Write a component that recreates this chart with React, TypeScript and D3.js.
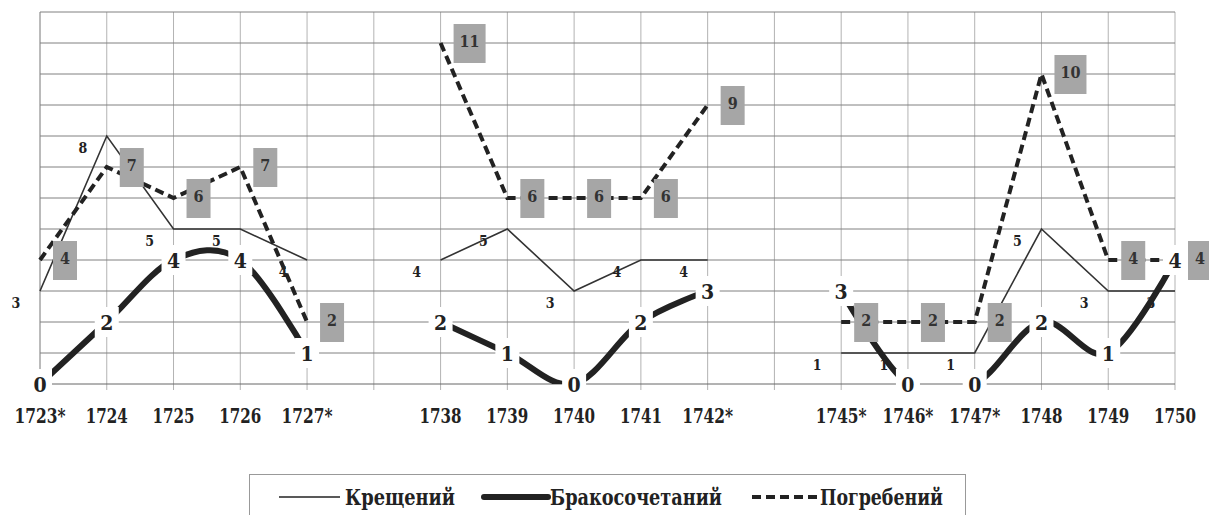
import React, { useEffect, useRef } from 'react';
import * as d3 from 'd3';

// categories ("" = empty slot between the groups of years)
const categories = ['1723*', '1724', '1725', '1726', '1727*', '', '1738', '1739', '1740', '1741', '1742*', '', '1745*', '1746*', '1747*', '1748', '1749', '1750'];
const baptisms: (number | null)[] = [3, 8, 5, 5, 4, null, 4, 5, 3, 4, 4, null, 1, 1, 1, 5, 3, 3];
const marriages: (number | null)[] = [0, 2, 4, 4, 1, null, 2, 1, 0, 2, 3, null, 3, 0, 0, 2, 1, 4];
const burials: (number | null)[] = [4, 7, 6, 7, 2, null, 11, 6, 6, 6, 9, null, 2, 2, 2, 10, 4, 4];
const seriesNames = ['Крещений', 'Бракосочетаний', 'Погребений'];

const FONT = 'DejaVu Serif Condensed, DejaVu Serif';

const App = () => {
  const svgRef = useRef<SVGSVGElement | null>(null);

  useEffect(() => {
    if (!svgRef.current) return;
    const svg = d3.select(svgRef.current);
    svg.selectAll('*').remove();

    const left = 40, right = 1175, top = 12, bottom = 384;

    const x = d3.scalePoint<number>()
      .domain(categories.map((_, i) => i))
      .range([left, right]);

    const y = d3.scaleLinear().domain([0, 12]).range([bottom, top]);

    // clip for the smoothed line
    svg.append('defs').append('clipPath').attr('id', 'plot-clip')
      .append('rect')
      .attr('x', left).attr('y', top)
      .attr('width', right - left).attr('height', bottom - top);

    // vertical grid + ticks
    svg.append('g')
      .selectAll('line')
      .data(categories.map((_, i) => i))
      .enter().append('line')
      .attr('x1', d => x(d)!).attr('x2', d => x(d)!)
      .attr('y1', top).attr('y2', bottom + 6)
      .attr('stroke', d => (d === 0 ? '#777' : '#b3b3b3'))
      .attr('stroke-width', 1);

    // horizontal grid
    svg.append('g')
      .selectAll('line')
      .data(d3.range(0, 13))
      .enter().append('line')
      .attr('x1', left).attr('x2', right)
      .attr('y1', d => y(d)).attr('y2', d => y(d))
      .attr('stroke', d => (d === 0 ? '#666' : '#808080'))
      .attr('stroke-width', 1);

    // x labels
    svg.append('g')
      .selectAll('text')
      .data(categories.map((c, i) => ({ c, i })).filter(d => d.c !== ''))
      .enter().append('text')
      .attr('x', d => x(d.i)!)
      .attr('y', 417)
      .attr('text-anchor', 'middle')
      .attr('dominant-baseline', 'middle')
      .attr('textLength', d => (d.c.endsWith('*') ? 51 : 42))
      .attr('lengthAdjust', 'spacingAndGlyphs')
      .style('font-family', FONT)
      .attr('font-weight', 'bold')
      .attr('font-size', 20)
      .attr('fill', '#222')
      .text(d => d.c);

    const pts = (vals: (number | null)[]) => vals.map((v, i) => ({ i, v }));

    const straight = d3.line<{ i: number; v: number | null }>()
      .defined(d => d.v !== null)
      .x(d => x(d.i)!)
      .y(d => y(d.v as number));

    const smooth = d3.line<{ i: number; v: number | null }>()
      .defined(d => d.v !== null)
      .x(d => x(d.i)!)
      .y(d => y(d.v as number))
      .curve(d3.curveCardinal.tension(0));

    // baptisms: thin solid
    svg.append('path')
      .datum(pts(baptisms))
      .attr('fill', 'none')
      .attr('stroke', '#333')
      .attr('stroke-width', 1.6)
      .attr('d', straight);

    svg.append('g')
      .selectAll('text')
      .data(pts(baptisms).filter(d => d.v !== null))
      .enter().append('text')
      .attr('x', d => x(d.i)! - 24)
      .attr('y', d => y(d.v as number) + 13)
      .attr('text-anchor', 'middle')
      .attr('dominant-baseline', 'middle')
      .style('font-family', FONT)
      .attr('font-weight', 'bold')
      .attr('font-size', 14)
      .attr('fill', '#222')
      .text(d => String(d.v));

    // marriages: thick smoothed
    svg.append('path')
      .datum(pts(marriages))
      .attr('clip-path', 'url(#plot-clip)')
      .attr('fill', 'none')
      .attr('stroke', '#222')
      .attr('stroke-width', 6)
      .attr('d', smooth);

    // burials: dashed
    svg.append('path')
      .datum(pts(burials))
      .attr('fill', 'none')
      .attr('stroke', '#222')
      .attr('stroke-width', 4)
      .attr('stroke-dasharray', '9,5')
      .attr('d', straight);

    // marriage labels, white background
    const mLab = svg.append('g')
      .selectAll('g')
      .data(pts(marriages).filter(d => d.v !== null))
      .enter().append('g')
      .attr('transform', d => `translate(${x(d.i)},${y(d.v as number)})`);
    mLab.append('rect')
      .attr('x', -12).attr('y', -15)
      .attr('width', 24).attr('height', 30)
      .attr('fill', 'white');
    mLab.append('text')
      .attr('y', 2)
      .attr('text-anchor', 'middle')
      .attr('dominant-baseline', 'middle')
      .style('font-family', FONT)
      .attr('font-weight', 'bold')
      .attr('font-size', 21)
      .attr('fill', '#222')
      .text(d => String(d.v));

    // burial labels, grey boxes
    const bLab = svg.append('g')
      .selectAll('g')
      .data(pts(burials).filter(d => d.v !== null))
      .enter().append('g')
      .attr('transform', d => `translate(${x(d.i)! + 13},${y(d.v as number)})`);
    bLab.append('rect')
      .attr('x', 0).attr('y', -19)
      .attr('width', d => 16 + 8 * String(d.v).length)
      .attr('height', 39)
      .attr('fill', '#a6a6a6');
    bLab.append('text')
      .attr('x', d => (16 + 8 * String(d.v).length) / 2)
      .attr('y', -1)
      .attr('text-anchor', 'middle')
      .attr('dominant-baseline', 'middle')
      .style('font-family', FONT)
      .attr('font-weight', 'bold')
      .attr('font-size', 16)
      .attr('fill', '#333')
      .text(d => String(d.v));

    // legend
    const legend = svg.append('g');
    legend.append('rect')
      .attr('x', 249.5).attr('y', 474.5)
      .attr('width', 716).attr('height', 60)
      .attr('fill', 'white')
      .attr('stroke', '#999');

    const items = [
      { x1: 279, x2: 340, tx: 345, tw: 110, width: 1.6, dash: null as string | null },
      { x1: 484, x2: 548, tx: 550, tw: 172, width: 6, dash: null },
      { x1: 752, x2: 818, tx: 820, tw: 123, width: 4, dash: '9,5' },
    ];
    items.forEach((it, k) => {
      legend.append('line')
        .attr('x1', it.x1).attr('x2', it.x2)
        .attr('y1', 497).attr('y2', 497)
        .attr('stroke', '#222')
        .attr('stroke-width', it.width)
        .attr('stroke-linecap', k === 1 ? 'round' : 'butt')
        .attr('stroke-dasharray', it.dash);
      legend.append('text')
        .attr('x', it.tx)
        .attr('y', 505)
        .attr('textLength', it.tw)
        .attr('lengthAdjust', 'spacingAndGlyphs')
        .style('font-family', FONT)
        .attr('font-weight', 'bold')
        .attr('font-size', 22)
        .attr('fill', '#222')
        .text(seriesNames[k]);
    });
  }, []);

  return (
    <svg
      ref={svgRef}
      width={1209}
      height={515}
      style={{ position: 'absolute', left: 0, top: 0, background: 'white' }}
    />
  );
};

export default App;
